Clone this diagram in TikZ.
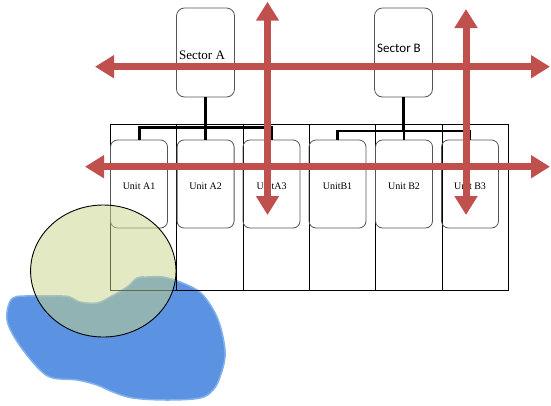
\documentclass[tikz,border=0pt]{standalone}
\usepackage{fontspec}
\setmainfont{Liberation Serif}
\newfontfamily\cbrfont{Carlito}
\usetikzlibrary{arrows.meta,shapes.geometric}
\definecolor{arrowred}{RGB}{192,80,77}
\definecolor{blobblue}{RGB}{91,146,226}
\definecolor{blobrim}{RGB}{130,178,238}
\definecolor{circfill}{RGB}{200,213,135}
\definecolor{boxgray}{RGB}{85,85,85}
\tikzset{
  colbox/.style={draw=black, line width=1.1pt, minimum width=66.3pt, minimum height=166pt, inner sep=0pt, anchor=north west},
  unitbox/.style={draw=boxgray, line width=0.8pt, rounded corners=7pt, minimum width=57pt, minimum height=88pt, inner sep=0pt},
  sectorbox/.style={draw=boxgray, line width=0.8pt, rounded corners=8pt, minimum width=58pt, minimum height=89pt, inner sep=0pt},
  unitlabel/.style={font=\fontsize{10}{12}\selectfont, inner sep=0pt},
  tree/.style={draw=black, line width=3pt},
  redarrow/.style={draw=arrowred, line width=7pt, {Triangle[width=22pt,length=19pt]}-{Triangle[width=22pt,length=19pt]}}
}
\begin{document}
\begin{tikzpicture}[x=1pt,y=-1pt]
\useasboundingbox (0,0) rectangle (551,405);
% blue blob
\fill[blobblue, draw=blobrim, line width=1.5pt] plot[smooth cycle, tension=0.6] coordinates {
 (13,298) (25,296) (63,296) (72,298) (80,302) (97,303) (110,297) (127,287)
 (137,278) (147,277) (163,277) (180,282) (197,290) (207,300) (217,317)
 (223,337) (225,357) (220,377) (213,390) (200,398) (167,400) (133,398)
 (113,392) (97,385) (77,380) (53,378) (40,370) (23,350) (12,333) (7,320) (8,307)};
% columns
\node[colbox] (c1) at (110,124) {};
\node[colbox] (c2) at (176.3,124) {};
\node[colbox] (c3) at (242.6,124) {};
\node[colbox] (c4) at (308.9,124) {};
\node[colbox] (c5) at (375.2,124) {};
\node[colbox] (c6) at (441.5,124) {};
% units
\node[unitbox] (uA1) at (139,184) {};
\node[unitbox] (uA2) at (205.6,184) {};
\node[unitbox] (uA3) at (271.5,184) {};
\node[unitbox] (uB1) at (337.5,184) {};
\node[unitbox] (uB2) at (404,184) {};
\node[unitbox] (uB3) at (470,184) {};
\node[unitlabel] (lA1) at (139,186) {Unit A1};
\node[unitlabel] (lA2) at (205.6,186) {Unit A2};
\node[unitlabel] (lA3) at (271.5,186) {UnitA3};
\node[unitlabel] (lB1) at (337.5,186) {UnitB1};
\node[unitlabel] (lB2) at (404,186) {Unit B2};
\node[unitlabel] (lB3) at (470,186) {Unit B3};
% sectors
\node[sectorbox] (sA) at (205.5,52.5) {};
\node[sectorbox] (sB) at (403.5,52.5) {};
\node[font=\fontsize{13}{15}\selectfont, inner sep=0pt] (lsA) at (202,55) {Sector A};
\node[font=\cbrfont\fontsize{13}{15}\selectfont, inner sep=0pt] (lsB) at (399,48) {Sector B};
% tree connectors
\draw[tree] (sA.south) -- (sA.south |- 0,127);
\draw[tree] (uA1.north) -- (uA1.north |- 0,127) -- (uA3.north |- 0,127) -- (uA3.north);
\draw[tree] (uA2.north) -- (uA2.north |- 0,127);
\draw[tree, line width=2.5pt] (sB.south) -- (sB.south |- 0,131);
\draw[tree, line width=2.5pt] (uB1.north) -- (uB1.north |- 0,131) -- (uB3.north |- 0,131) -- (uB3.north);
\draw[tree, line width=2.5pt] (uB2.north) -- (uB2.north |- 0,131);
% circle
\node[draw=black, line width=0.9pt, fill=circfill, fill opacity=0.5, draw opacity=1,
  ellipse, minimum width=145.4pt, minimum height=132pt, inner sep=0pt] (circ) at (103.3,271) {};
% red arrows
\coordinate (h1l) at (95,66.7);
\coordinate (h1r) at (550,66.7);
\coordinate (h2l) at (85,166.7);
\coordinate (h2r) at (550,166.7);
\coordinate (v1t) at (267.5,1.7);
\coordinate (v1b) at (267.5,215);
\coordinate (v2t) at (466,9);
\coordinate (v2b) at (466,215);
\draw[redarrow] (h1l) -- (h1r);
\draw[redarrow] (h2l) -- (h2r);
\draw[redarrow] (v1b) -- (v1t);
\draw[redarrow] (v2b) -- (v2t);
\end{tikzpicture}
\end{document}
